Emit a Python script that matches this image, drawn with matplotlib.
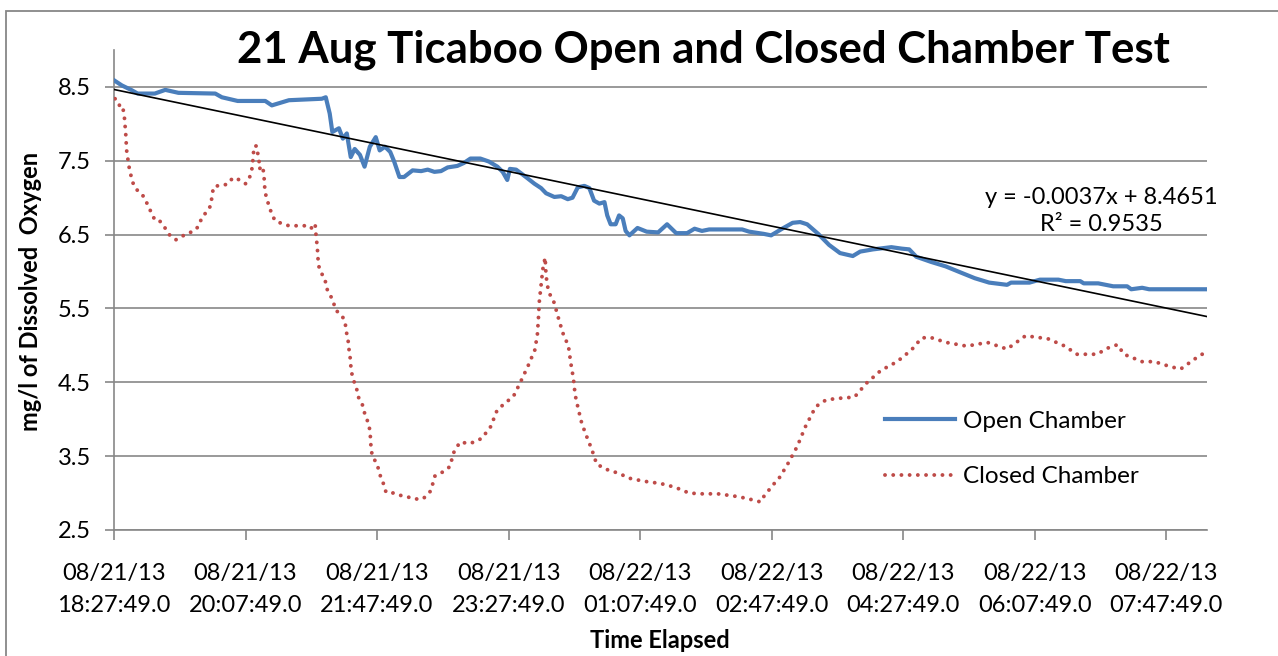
import matplotlib
matplotlib.use('Agg')
import matplotlib.pyplot as plt
from matplotlib.patches import Rectangle
import numpy as np

plt.rcParams['font.family'] = ['Lato', 'DejaVu Sans']

# ---------------- data ----------------
open_min = [0, 6, 13, 18, 31, 39, 49, 77, 82, 94, 115, 120, 133, 158, 161, 164, 166, 171,
            174, 177, 180, 183, 187, 190.5, 194.5, 199, 202, 206, 210, 213, 217, 220.5, 227,
            233.5, 238.5, 243.6, 248.6, 253.7, 261, 266, 271, 278.5, 285, 291.5, 295.5, 299,
            301, 305.7, 309.5, 314.6, 319.6, 324.7, 328.5, 334.8, 340, 345, 348.6, 352.6,
            357.6, 361.4, 365, 369, 372.9, 375, 377.6, 381.4, 384, 386.8, 389, 391.9, 398,
            405, 413.7, 420.5, 427.4, 435.7, 441.4, 447, 452.5, 477.6, 482.9, 494, 499.6,
            508, 516, 521.7, 527, 535.4, 543.7, 552, 561.7, 567.3, 577, 591, 599, 604.6,
            610, 621.3, 632.3, 643.3, 654.4, 665.4, 679, 682, 696, 704, 718, 723.6, 734.6,
            737.3, 748.3, 759.7, 770.3, 773.4, 781.7, 787, 830]
open_do = [8.59, 8.52, 8.46, 8.41, 8.41, 8.46, 8.42, 8.41, 8.36, 8.31, 8.31, 8.25, 8.32, 8.34,
           8.36, 8.14, 7.89, 7.94, 7.80, 7.87, 7.55, 7.66, 7.58, 7.42, 7.69, 7.82, 7.64, 7.69,
           7.62, 7.49, 7.28, 7.28, 7.37, 7.36, 7.38, 7.35, 7.36, 7.41, 7.43, 7.47, 7.53, 7.53,
           7.49, 7.42, 7.35, 7.24, 7.39, 7.38, 7.33, 7.26, 7.19, 7.13, 7.06, 7.01, 7.02, 6.98,
           7.00, 7.14, 7.16, 7.13, 6.96, 6.92, 6.94, 6.76, 6.64, 6.64, 6.76, 6.72, 6.55, 6.49,
           6.59, 6.54, 6.53, 6.64, 6.52, 6.52, 6.58, 6.55, 6.57, 6.57, 6.54, 6.51, 6.49, 6.58,
           6.66, 6.67, 6.64, 6.51, 6.36, 6.25, 6.21, 6.27, 6.30, 6.33, 6.31, 6.30, 6.20, 6.13,
           6.07, 5.99, 5.91, 5.85, 5.82, 5.85, 5.85, 5.89, 5.89, 5.87, 5.87, 5.84, 5.84, 5.80,
           5.80, 5.76, 5.78, 5.76, 5.76]

closed_min = [0.8, 3.8, 4.6, 7, 7.9, 8.9, 9.6, 11.4, 13.9, 16.5, 20.5, 23.6, 26, 28.7, 31.2,
              35, 38.8, 42, 47, 52, 56.5, 61, 64.6, 66.7, 70.5, 73.8, 74.3, 75.5, 76.8, 81.9,
              86.9, 90.3, 95.8, 100, 103, 104.7, 105.5, 106, 106.7, 108.5, 109.3, 110.3,
              110.5, 112.8, 114, 114.3, 114.8, 116, 117.9, 119.9, 122.4, 127.5, 133, 139.4,
              145, 149.6, 152.9, 153.4, 154, 154.6, 155.4, 157.2, 160.5, 161.2, 163.7, 166.8,
              168, 171.4, 174.4, 176.2, 177, 178.2, 178.7, 179.5, 180, 180.8, 182.5, 184.5,
              185.8, 188.8, 189.6, 191.6, 193.9, 194.7, 195.2, 195.4, 196.7, 199.8, 201.5,
              203, 205.3, 206.8, 212.9, 217.5, 223, 228, 234.7, 237.3, 240.8, 244, 250.4,
              255.5, 258, 263, 270.7, 279.6, 286.4, 291, 296, 303.7, 308.7, 315, 320, 321.9,
              322.7, 323.4, 324.7, 326, 327.8, 328.5, 330.3, 334.6, 337.9, 341.2, 345.5,
              347.3, 349.3, 350.6, 353.1, 355.7, 359.5, 363.3, 367, 375.9, 383.5, 392, 403,
              415.5, 426.4, 437.3, 446.4, 459, 471.4, 480.6, 491.6, 493, 501, 505.6, 511.8,
              519.4, 525.7, 533.5, 541.2, 549, 563, 572.2, 583, 595.4, 606.4, 614, 620.4,
              632.7, 648.3, 664, 679, 693, 710, 723, 732, 747.5, 755, 763, 767.8, 781.7, 791,
              803.5, 811, 822, 830]
closed_do = [8.34, 8.29, 8.19, 8.19, 8.09, 7.87, 7.64, 7.42, 7.22, 7.12, 7.06, 6.99, 6.88,
             6.79, 6.69, 6.68, 6.59, 6.50, 6.43, 6.48, 6.52, 6.55, 6.62, 6.73, 6.81, 6.90, 7.00,
             7.13, 7.16, 7.16, 7.19, 7.27, 7.24, 7.19, 7.27, 7.37, 7.49, 7.60, 7.70, 7.70, 7.60,
             7.49, 7.39, 7.43, 7.32, 7.21, 7.09, 6.99, 6.89, 6.78, 6.69, 6.65, 6.62, 6.62, 6.62,
             6.58, 6.65, 6.53, 6.43, 6.32, 6.09, 5.99, 5.90, 5.79, 5.70, 5.60, 5.49, 5.43, 5.37,
             5.26, 5.15, 5.04, 4.94, 4.84, 4.73, 4.62, 4.51, 4.41, 4.30, 4.20, 4.13, 4.03, 3.92,
             3.81, 3.70, 3.59, 3.49, 3.40, 3.30, 3.20, 3.11, 3.01, 3.00, 2.97, 2.95, 2.92, 2.92,
             2.96, 3.03, 3.23, 3.29, 3.36, 3.54, 3.69, 3.67, 3.74, 3.90, 4.11, 4.20, 4.31, 4.49,
             4.73, 4.94, 5.15, 5.37, 5.60, 5.82, 6.03, 6.19, 5.94, 5.73, 5.58, 5.37, 5.17, 4.99,
             4.76, 4.55, 4.33, 4.13, 3.94, 3.76, 3.59, 3.39, 3.31, 3.27, 3.20, 3.16, 3.13, 3.08,
             3.00, 2.99, 2.99, 2.96, 2.93, 2.88, 2.93, 3.11, 3.20, 3.38, 3.63, 3.90, 4.17, 4.26,
             4.28, 4.30, 4.49, 4.66, 4.78, 4.94, 5.10, 5.11, 5.04, 4.99, 5.04, 4.95, 5.13, 5.09,
             4.99, 4.88, 4.88, 4.96, 5.01, 4.88, 4.78, 4.78, 4.71, 4.68, 4.82, 4.91]

trend_slope = -0.0037
trend_intercept = 8.4651
trend_r2 = 0.9535

x_tick_minutes = [0, 100, 200, 300, 400, 500, 600, 700, 800]
x_tick_labels = ["08/21/13\n18:27:49.0", "08/21/13\n20:07:49.0", "08/21/13\n21:47:49.0",
                 "08/21/13\n23:27:49.0", "08/22/13\n01:07:49.0", "08/22/13\n02:47:49.0",
                 "08/22/13\n04:27:49.0", "08/22/13\n06:07:49.0", "08/22/13\n07:47:49.0"]
y_ticks = [2.5, 3.5, 4.5, 5.5, 6.5, 7.5, 8.5]

# ---------------- figure ----------------
W, H = 1278, 656
fig = plt.figure(figsize=(W / 100, H / 100), dpi=100)
grey = '#878787'

# outer chart border (partially cropped)
fig.patches.append(Rectangle((6 / W, -0.2), 1.5, 1.2 - 11 / H, transform=fig.transFigure,
                             fill=False, edgecolor=grey, linewidth=1.3))

ax = fig.add_axes([114 / W, 1 - 530 / H, (1207 - 114) / W, (530 - 50) / H])
ax.set_xlim(0, 831)
ax.set_ylim(2.5, 9.0)

ax.set_yticks(y_ticks)
ax.set_yticklabels([f"{v:.1f}" for v in y_ticks])
ax.set_xticks(x_tick_minutes)
ax.set_xticklabels(x_tick_labels, linespacing=1.62)
ax.grid(axis='y', color=grey, linewidth=1.2)
ax.set_axisbelow(True)
for s in ['top', 'right']:
    ax.spines[s].set_visible(False)
for s in ['left', 'bottom']:
    ax.spines[s].set_color(grey)
    ax.spines[s].set_linewidth(1.2)
ax.tick_params(axis='x', length=7.5, width=1.2, color=grey, labelsize=17, pad=16.5)
ax.tick_params(axis='y', length=6.5, width=1.2, color=grey, labelsize=17, pad=10)

ax.plot(open_min, open_do, color='#4A7EBB', linewidth=3.0, label='Open Chamber',
        solid_joinstyle='round', zorder=3)
ax.plot(closed_min, closed_do, color='#BE4B48', linewidth=2.8, label='Closed Chamber',
        linestyle=(0, (0.01, 2.1)), dash_capstyle='round', zorder=3)

xl = np.array(ax.get_xlim())
ax.plot(xl, trend_intercept + trend_slope * xl, color='black', linewidth=1.2, zorder=4)

ax.text((1101 - 114) / 1093, (530 - 211) / 480,
        f"y = {trend_slope:.4f}x + {trend_intercept:.4f}\nR\u00b2 = {trend_r2:.4f}",
        transform=ax.transAxes, ha='center', va='center', fontsize=17, linespacing=1.35)

ax.legend(loc='center left', bbox_to_anchor=((885 - 114) / 1093, (530 - 449) / 480),
          frameon=False, fontsize=17.5, handlelength=2.9, handletextpad=0.3,
          labelspacing=1.4, borderpad=0, borderaxespad=0)

fig.text(703 / W, 1 - 50 / H, "21 Aug Ticaboo Open and Closed Chamber Test",
         ha='center', va='center', fontsize=31.5, fontweight='bold')
fig.text(31 / W, 1 - 291 / H, "mg/l of Dissolved  Oxygen", rotation=90,
         ha='center', va='center', fontsize=17, fontweight='bold')
fig.text(660 / W, 1 - 640 / H, "Time Elapsed", ha='center', va='center',
         fontsize=17, fontweight='bold')

fig.savefig('out.png', dpi=100)
